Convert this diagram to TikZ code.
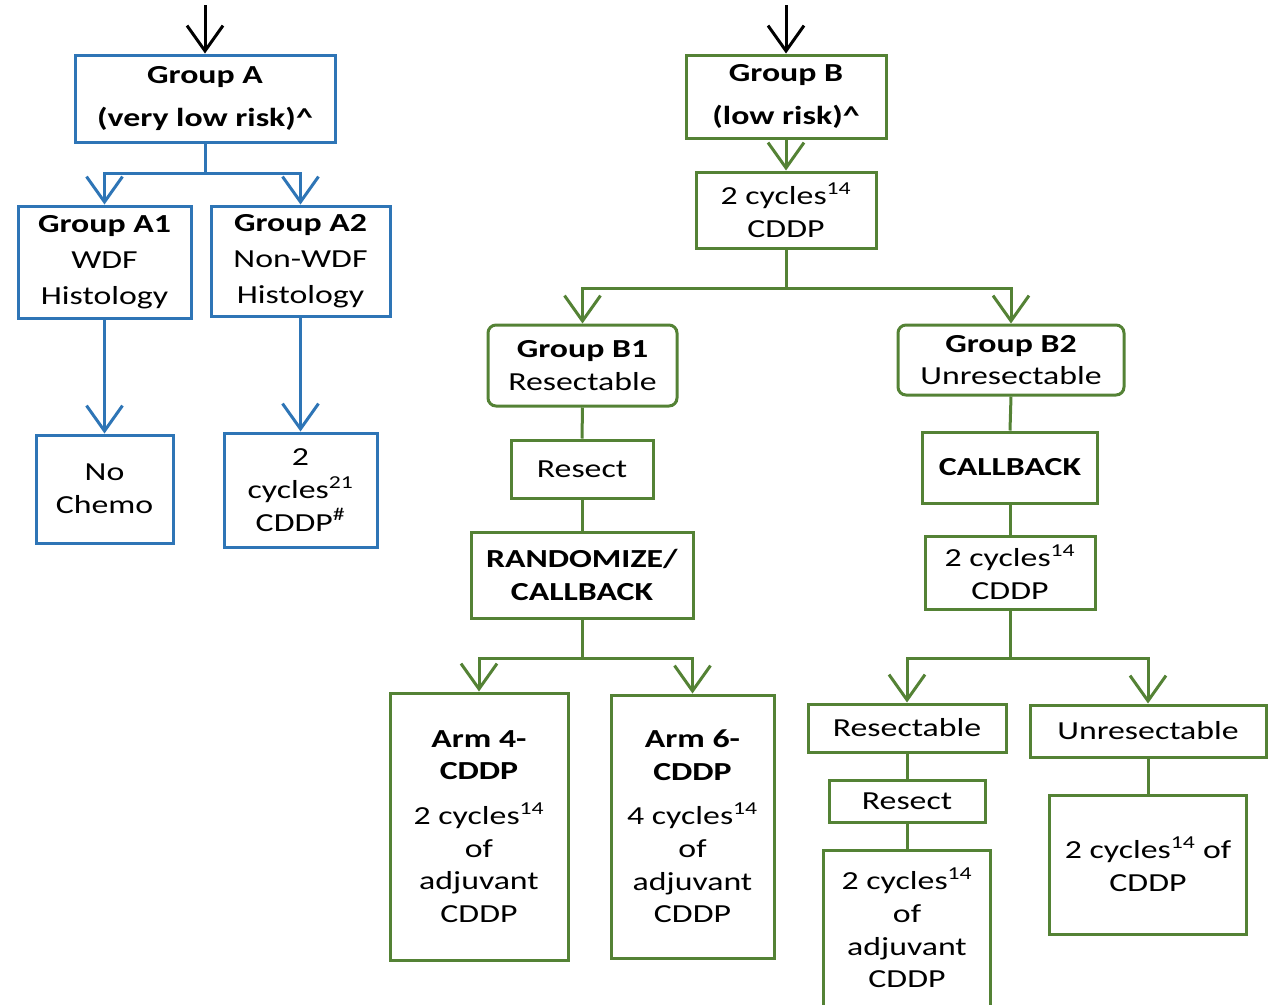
\documentclass[tikz,border=0pt]{standalone}
\usepackage{fontspec}
\setmainfont{Carlito}[FakeStretch=1.3]
\usetikzlibrary{arrows.meta}
\definecolor{ablue}{RGB}{46,117,182}
\definecolor{bgreen}{RGB}{84,130,53}
\tikzset{
  box/.style={draw, line width=2.25pt, inner sep=0pt, align=center,
    font=\fontsize{19.5}{24.5}\selectfont, text=black},
  abox/.style={box, draw=ablue},
  bbox/.style={box, draw=bgreen},
  rbox/.style={bbox, rounded corners=6pt},
  sz/.style 2 args={minimum width=#1*0.75pt, minimum height=#2*0.75pt},
  link/.style={line width=2.25pt},
  tip/.style={-{Straight Barb[length=19pt,width=27pt]}},
  alink/.style={link, draw=ablue},
  blink/.style={link, draw=bgreen}
}
\begin{document}
\begin{tikzpicture}[x=0.75pt,y=-0.75pt]
\useasboundingbox (0,0) rectangle (1274,1004);

% ---------- Group A ----------
\coordinate (inA) at (205,5);
\node[abox, sz={260}{87}] (A) at (205,98.5)
  {\textbf{Group A}\\[8pt]\textbf{(very low risk)\textasciicircum}};
\node[abox, sz={173}{112}] (A1) at (104.5,262)
  {\textbf{Group A1}\\[2.5pt]WDF\\[2.5pt]Histology};
\node[abox, sz={179}{110}] (A2) at (300.5,261)
  {\textbf{Group A2}\\[2.5pt]Non-WDF\\[2.5pt]Histology};
\node[abox, sz={137}{108}] (nochemo) at (104.5,489)
  {No\\Chemo};
\node[abox, sz={153}{114}] (acyc) at (300.5,490)
  {2\\cycles\textsuperscript{21}\\CDDP\textsuperscript{\#}};

\draw[link, tip] (inA) -- (A.north);
\draw[alink, tip] (A.south) -- ++(0,30) -| (A1.north);
\draw[alink, tip] (A.south) -- ++(0,30) -| (A2.north);
\draw[alink, tip] (A1.south) -- (nochemo.north);
\draw[alink, tip] (A2.south) -- (acyc.north);

% ---------- Group B ----------
\coordinate (inB) at (786,5);
\node[bbox, sz={200}{83}] (B) at (786,96.5)
  {\textbf{Group B}\\[8pt]\textbf{(low risk)\textasciicircum}};
\node[bbox, sz={180}{76}] (bcyc) at (786,210)
  {2 cycles\textsuperscript{14}\\CDDP};
\node[rbox, sz={189}{81}] (B1) at (582.5,365.5)
  {\textbf{Group B1}\\Resectable};
\node[rbox, sz={226}{70}] (B2) at (1011,360)
  {\textbf{Group B2}\\Unresectable};

\node[bbox, sz={142}{58}] (resect) at (582,469) {Resect};
\node[bbox, sz={222}{86}] (rand) at (582,575)
  {\textbf{RANDOMIZE/}\\\textbf{CALLBACK}};
\node[bbox, sz={178}{267}] (arm4) at (479,826.5)
  {\textbf{Arm 4-}\\\textbf{CDDP}\\[9pt]2 cycles\textsuperscript{14}\\of\\adjuvant\\CDDP};
\node[bbox, sz={163}{263}] (arm6) at (692.5,826.5)
  {\textbf{Arm 6-}\\\textbf{CDDP}\\[9pt]4 cycles\textsuperscript{14}\\of\\adjuvant\\CDDP};

\node[bbox, sz={175}{71}] (callback) at (1010,467.5) {\textbf{CALLBACK}};
\node[bbox, sz={170}{73}] (bcyc2) at (1010,572.5)
  {2 cycles\textsuperscript{14}\\CDDP};
\node[bbox, sz={198}{48}] (resectable) at (907,728) {Resectable};
\node[bbox, sz={236}{52}] (unres) at (1148,731) {Unresectable};
\node[bbox, sz={156}{42}] (resect2) at (907,801) {Resect};
\node[bbox, sz={167}{156}] (adj) at (907,928)
  {2 cycles\textsuperscript{14}\\of\\adjuvant\\CDDP};
\node[bbox, sz={197}{139}] (ucyc) at (1148,864.5)
  {2 cycles\textsuperscript{14} of\\CDDP};

\draw[link, tip] (inB) -- (B.north);
\draw[blink, tip] (B.south) -- (bcyc.north);
\draw[blink, tip] (bcyc.south) -- ++(0,39) -| (B1.north);
\draw[blink, tip] (bcyc.south) -- ++(0,39) -| (B2.north);
\draw[blink] (B1.south) -- (resect.north);
\draw[blink] (resect.south) -- (rand.north);
\draw[blink, tip] (rand.south) -- ++(0,39) -| (arm4.north);
\draw[blink, tip] (rand.south) -- ++(0,39) -| (arm6.north);
\draw[blink] (B2.south) -- (callback.north);
\draw[blink] (callback.south) -- (bcyc2.north);
\draw[blink, tip] (bcyc2.south) -- ++(0,48) -| (resectable.north);
\draw[blink, tip] (bcyc2.south) -- ++(0,48) -| (unres.north);
\draw[blink] (resectable.south) -- (resect2.north);
\draw[blink] (resect2.south) -- (adj.north);
\draw[blink] (unres.south) -- (ucyc.north);
\end{tikzpicture}
\end{document}
